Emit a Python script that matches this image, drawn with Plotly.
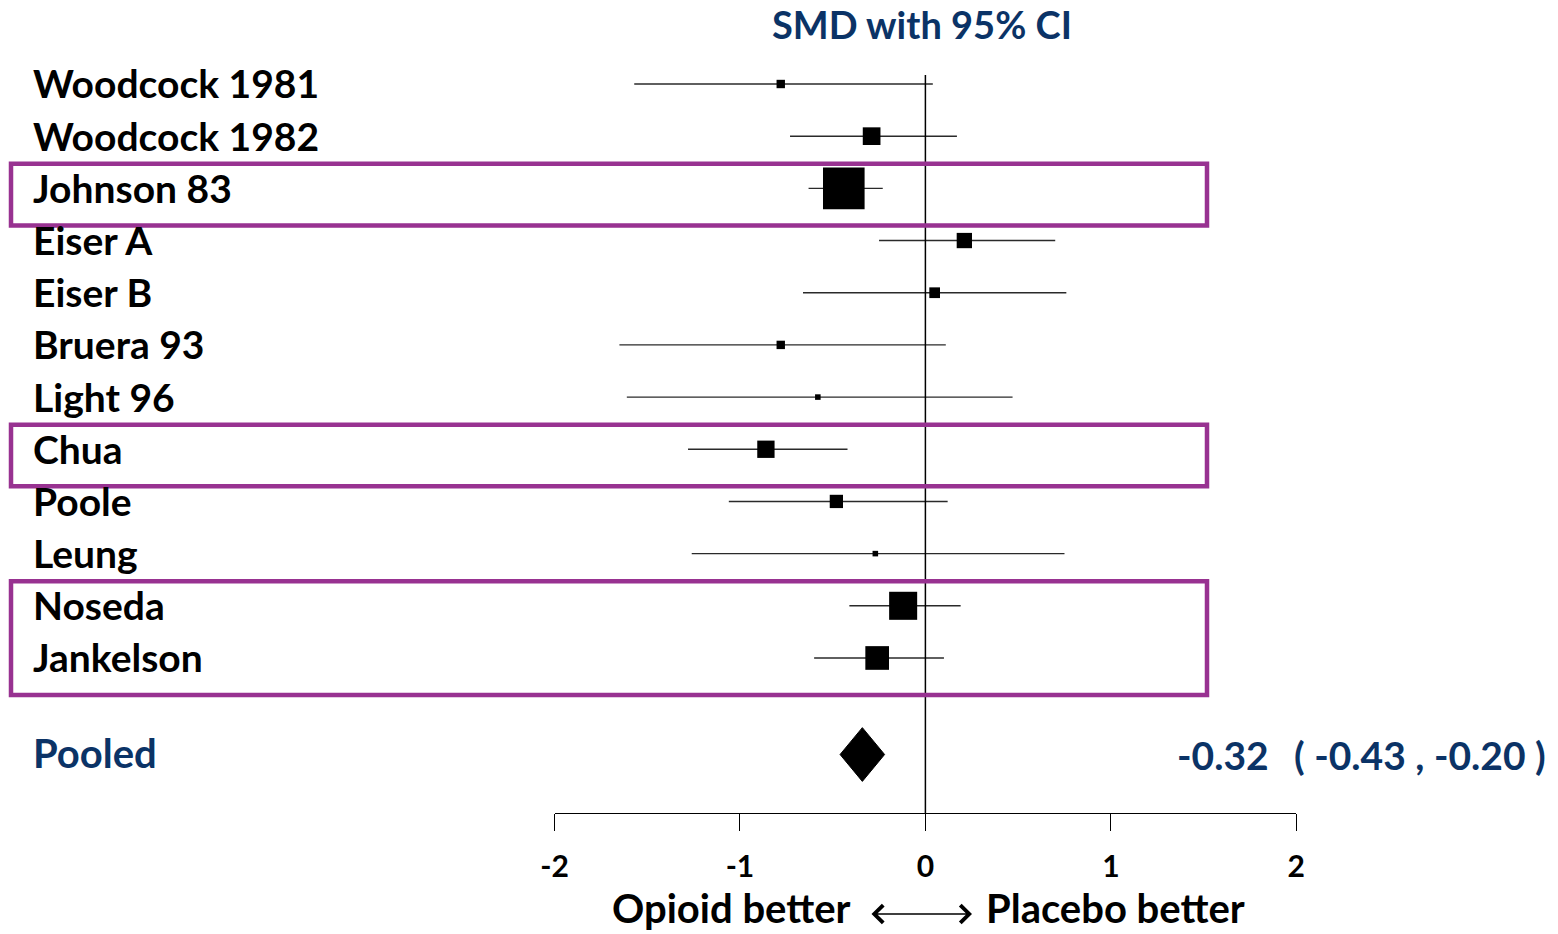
import plotly.graph_objects as go

# ---------------- data ----------------
studies = ["Woodcock 1981", "Woodcock 1982", "Johnson 83", "Eiser A", "Eiser B",
           "Bruera 93", "Light 96", "Chua", "Poole", "Leung", "Noseda", "Jankelson"]
smd = [-0.78, -0.29, -0.44, 0.21, 0.05, -0.78, -0.58, -0.86, -0.48, -0.27, -0.12, -0.26]
ci_lo = [-1.57, -0.73, -0.63, -0.25, -0.66, -1.65, -1.61, -1.28, -1.06, -1.26, -0.41, -0.60]
ci_hi = [0.04, 0.17, -0.23, 0.70, 0.76, 0.11, 0.47, -0.42, 0.12, 0.75, 0.19, 0.10]
weights = [1.6, 7.1, 39.2, 5.3, 2.6, 1.6, 0.7, 6.8, 4.0, 0.7, 17.8, 12.7]  # % weight

pooled_label = "Pooled"
pooled_est, pooled_lo, pooled_hi = -0.34, -0.46, -0.22       # diamond as drawn
pooled_text = (-0.32, -0.43, -0.20)                            # reported values

highlight_groups = [(2, 2), (7, 7), (10, 11)]                  # row index ranges boxed

tick_vals = [-2, -1, 0, 1, 2]
tick_text = ["-2", "-1", "0", "1", "2"]

title_text = "SMD with 95% CI"
left_dir, right_dir = "Opioid better", "Placebo better"

# ---------------- style ----------------
W, H = 1558, 934
NAVY = "#0B3366"
PURPLE = "#983291"
FONT = "Lato"
row_px0, row_step = 84.0, 52.18            # pixel of first row, spacing
pooled_row = 12.85


def py(px):  # pixel y -> row units
    return (px - row_px0) / row_step


def pf_x(px):
    return px / W


def pf_y(px):
    return 1 - px / H


rows = list(range(len(studies)))
sizes = [6.645 * (w ** 0.5) for w in weights]

fig = go.Figure()

# CIs + squares
fig.add_trace(go.Scatter(
    x=smd, y=rows, mode="markers",
    marker=dict(symbol="square", size=sizes, color="black", opacity=1,
                line=dict(width=0)),
    error_x=dict(type="data", symmetric=False,
                 array=[h - e for h, e in zip(ci_hi, smd)],
                 arrayminus=[e - l for e, l in zip(smd, ci_lo)],
                 width=0, thickness=1.4, color="#2a2a2a"),
    hoverinfo="skip", showlegend=False, cliponaxis=False))

# pooled diamond
hh = 0.515
fig.add_trace(go.Scatter(
    x=[pooled_lo, pooled_est, pooled_hi, pooled_est, pooled_lo],
    y=[pooled_row, pooled_row - hh, pooled_row, pooled_row + hh, pooled_row],
    mode="lines", fill="toself", fillcolor="black",
    line=dict(color="black", width=1), hoverinfo="skip", showlegend=False,
    cliponaxis=False))

shapes = []
# zero line
shapes.append(dict(type="line", xref="x", yref="paper", x0=0, x1=0,
                   y0=pf_y(75), y1=pf_y(813), line=dict(color="black", width=1.5)))
# highlight boxes
for a, b in highlight_groups:
    shapes.append(dict(type="rect", xref="paper", yref="y",
                       x0=pf_x(11), x1=pf_x(1207), y0=a - 0.47, y1=b + 0.71,
                       line=dict(color=PURPLE, width=4.5), fillcolor="rgba(0,0,0,0)"))

annotations = []
for r, name in zip(rows, studies):
    annotations.append(dict(x=pf_x(31), xref="paper", y=r - 0.01, yref="y",
                            text=name, showarrow=False, xanchor="left", yanchor="middle",
                            font=dict(family=FONT, size=39, color="black", weight="bold")))
annotations.append(dict(x=pf_x(31), xref="paper", y=pooled_row - 0.02, yref="y",
                        text=pooled_label, showarrow=False, xanchor="left", yanchor="middle",
                        font=dict(family=FONT, size=40, color=NAVY, weight="bold")))
annotations.append(dict(x=pf_x(1175), xref="paper", y=pooled_row, yref="y",
                        text=f"{pooled_text[0]:.2f}", showarrow=False, xanchor="left",
                        yanchor="middle",
                        font=dict(family=FONT, size=39, color=NAVY, weight="bold")))
annotations.append(dict(x=pf_x(1292), xref="paper", y=pooled_row, yref="y",
                        text=f"( {pooled_text[1]:.2f} , {pooled_text[2]:.2f} )",
                        showarrow=False, xanchor="left", yanchor="middle",
                        font=dict(family=FONT, size=39, color=NAVY, weight="bold")))
# title
annotations.append(dict(x=pf_x(922), xref="paper", y=pf_y(24), yref="paper",
                        text=title_text, showarrow=False, xanchor="center", yanchor="middle",
                        font=dict(family=FONT, size=38, color=NAVY, weight="bold")))
# direction labels
annotations.append(dict(x=pf_x(853), xref="paper", y=0, yref="paper",
                        text=left_dir, showarrow=False, xanchor="right", yanchor="bottom",
                        font=dict(family=FONT, size=40, color="black", weight="bold")))
annotations.append(dict(x=pf_x(984), xref="paper", y=0, yref="paper",
                        text=right_dir, showarrow=False, xanchor="left", yanchor="bottom",
                        font=dict(family=FONT, size=40, color="black", weight="bold")))
annotations.append(dict(x=pf_x(972), xref="paper", y=pf_y(914), yref="paper",
                        ax=-102, ay=0, text="", showarrow=True, arrowside="end+start",
                        arrowhead=4, arrowsize=2.3, arrowwidth=1.5, arrowcolor="black"))

fig.update_layout(
    width=W, height=H, margin=dict(l=0, r=0, t=0, b=0, autoexpand=False),
    paper_bgcolor="white", plot_bgcolor="rgba(0,0,0,0)",
    shapes=shapes, annotations=annotations,
    xaxis=dict(domain=[554.5 / W, 1296.3 / W], range=[-2, 2],
               anchor="free", position=pf_y(813), automargin=False,
               showline=True, linecolor="black", linewidth=1.2,
               ticks="outside", ticklen=17, tickwidth=1.2, tickcolor="black",
               tickvals=tick_vals, ticktext=tick_text, ticklabelstandoff=10,
               tickfont=dict(family=FONT, size=30, color="black", weight="bold"),
               showgrid=False, zeroline=False, fixedrange=True),
    yaxis=dict(domain=[0, 1], range=[py(H), py(0)], visible=False, automargin=False,
               showgrid=False, zeroline=False, fixedrange=True),
)

fig.write_html("out.html", config={"displayModeBar": False},
               post_script="document.body.style.margin='0px';"
                           "document.body.style.overflow='hidden';")
